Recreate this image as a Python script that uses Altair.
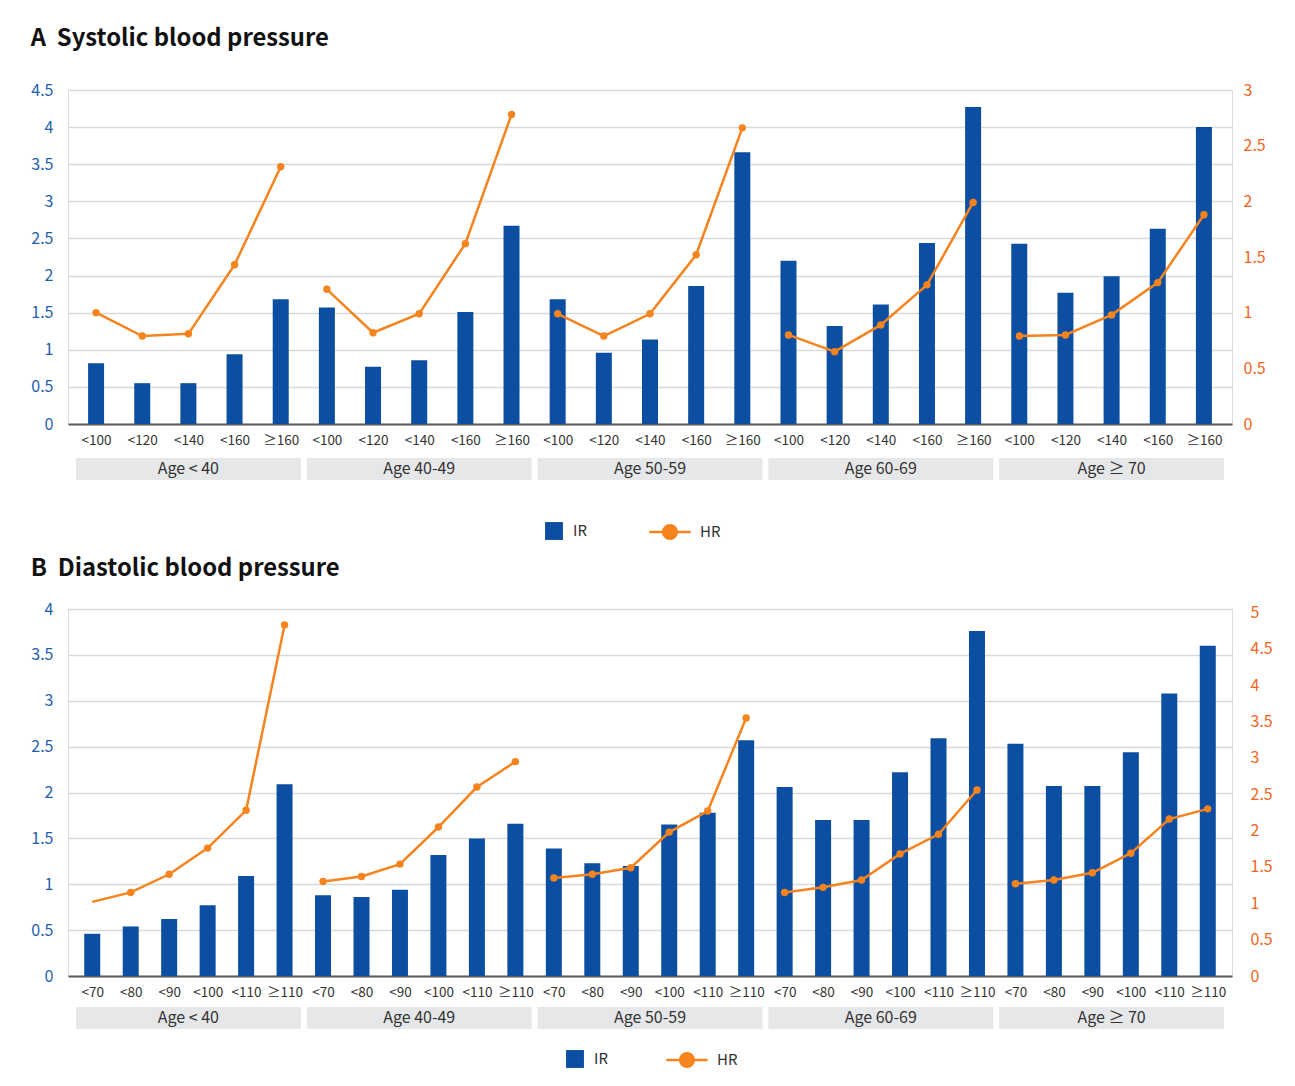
import json
import altair as alt
import pandas as pd

FONT = "Noto Sans CJK KR"
BLUE = "#0B4EA2"
ORANGE = "#F5841F"
AXIS_BLUE = "#1F5FAD"
AXIS_ORANGE = "#F26522"
TEXT = "#333333"

age_groups = ["Age < 40", "Age 40-49", "Age 50-59", "Age 60-69", "Age ≥ 70"]

sbp_levels = ["<100", "<120", "<140", "<160", "≥160"]
sbp_ir = [0.82, 0.55, 0.55, 0.94, 1.68,
          1.57, 0.77, 0.86, 1.51, 2.67,
          1.68, 0.96, 1.14, 1.86, 3.66,
          2.20, 1.32, 1.61, 2.44, 4.27,
          2.43, 1.77, 1.99, 2.63, 4.00]
sbp_hr = [1.00, 0.79, 0.81, 1.43, 2.31,
          1.21, 0.82, 0.99, 1.62, 2.78,
          0.99, 0.79, 0.99, 1.52, 2.66,
          0.80, 0.65, 0.89, 1.25, 1.99,
          0.79, 0.80, 0.98, 1.27, 1.88]

dbp_levels = ["<70", "<80", "<90", "<100", "<110", "≥110"]
dbp_ir = [0.46, 0.54, 0.62, 0.77, 1.09, 2.09,
          0.88, 0.86, 0.94, 1.32, 1.50, 1.66,
          1.39, 1.23, 1.20, 1.65, 1.78, 2.57,
          2.06, 1.70, 1.70, 2.22, 2.59, 3.76,
          2.53, 2.07, 2.07, 2.44, 3.08, 3.60]
dbp_hr = [1.02, 1.15, 1.40, 1.76, 2.28, 4.83,
          1.30, 1.37, 1.54, 2.05, 2.60, 2.95,
          1.35, 1.40, 1.49, 1.98, 2.27, 3.55,
          1.15, 1.22, 1.32, 1.68, 1.95, 2.56,
          1.27, 1.32, 1.42, 1.69, 2.16, 2.30]

W = 1164
HR_PATH = ("M-1,0L1,0M-0.33,0A0.33,0.33,0,1,1,0.33,0"
           "A0.33,0.33,0,1,1,-0.33,0Z")


def panel(title, levels, ir, hr, height, left_max, left_ticks, right_max,
          right_ticks, right_pad, box_top, box_bot, legs, title_offset,
          hide_first_marker):
    k = len(levels)
    n = len(ir)
    step = W / n
    df = pd.DataFrame({
        "pos": [i + 0.5 for i in range(n)],
        "idx": list(range(n)),
        "group": [age_groups[i // k] for i in range(n)],
        "level": [levels[i % k] for i in range(n)],
        "IR": ir,
        "HR": hr,
        "s_ir": ["IR"] * n,
        "s_hr": ["HR"] * n,
    })
    gdf = pd.DataFrame({
        "group": age_groups,
        "start": [g * k + 3 / step for g in range(len(age_groups))],
        "end": [(g + 1) * k - 3 / step for g in range(len(age_groups))],
        "mid": [g * k + k / 2 for g in range(len(age_groups))],
    })
    labels_all = [levels[i % k] for i in range(n)]
    label_expr = json.dumps(labels_all, ensure_ascii=False) + "[floor(datum.value)]"
    xaxis = alt.Axis(values=[i + 0.5 for i in range(n)], labelExpr=label_expr,
                     grid=False, ticks=False, domain=True, domainColor="#595959",
                     domainWidth=2, labelFontSize=13.5, labelColor=TEXT,
                     labelPadding=9, title=None, labelFlush=False,
                     labelOverlap=False, labelFont=FONT)
    xscale = alt.Scale(domain=[0, n], nice=False, zero=False)

    bars = alt.Chart(df).mark_bar(size=16, orient="vertical").encode(
        x=alt.X("pos:Q", scale=xscale, axis=xaxis),
        y=alt.Y("IR:Q", scale=alt.Scale(domain=[0, left_max], nice=False),
                axis=alt.Axis(values=left_ticks, format="~g", grid=True,
                              gridColor="#D9D9D9", gridWidth=1.5, ticks=False,
                              domain=False, labelColor=AXIS_BLUE,
                              labelFontSize=16, labelPadding=15, title=None,
                              labelFont=FONT)),
        color=alt.Color("s_ir:N", scale=alt.Scale(domain=["IR"], range=[BLUE]),
                        legend=alt.Legend(orient="none", legendX=legs[0],
                                          legendY=legs[1], title=None,
                                          symbolType="square", symbolSize=320,
                                          symbolStrokeWidth=0,
                                          labelFontSize=15, labelColor=TEXT,
                                          labelFont=FONT, labelOffset=10)),
    )
    boxes = alt.Chart(gdf).mark_rect(color="#E6E7E8").encode(
        x=alt.X("start:Q", scale=xscale, axis=xaxis),
        x2="end:Q",
        y=alt.value(height + box_top),
        y2=alt.value(height + box_bot),
    )
    box_text = alt.Chart(gdf).mark_text(fontSize=16, color=TEXT, font=FONT,
                                        baseline="middle").encode(
        x=alt.X("mid:Q", scale=xscale, axis=xaxis),
        y=alt.value(height + (box_top + box_bot) / 2),
        text="group:N",
    )
    yr = alt.Y("HR:Q", scale=alt.Scale(domain=[0, right_max], nice=False),
               axis=alt.Axis(orient="right", values=right_ticks, format="~g",
                             grid=False, ticks=False, domain=False,
                             labelColor=AXIS_ORANGE, labelFontSize=16,
                             labelPadding=right_pad, title=None,
                             labelFont=FONT))
    line = alt.Chart(df).mark_line(strokeWidth=2.5).encode(
        x=alt.X("pos:Q", scale=xscale, axis=xaxis),
        y=yr,
        detail="group:N",
        color=alt.Color("s_hr:N", scale=alt.Scale(domain=["HR"], range=[ORANGE]),
                        legend=alt.Legend(orient="none", legendX=legs[2],
                                          legendY=legs[3], title=None,
                                          symbolType=HR_PATH, symbolSize=1700,
                                          symbolStrokeWidth=2.5,
                                          symbolFillColor=ORANGE,
                                          symbolStrokeColor=ORANGE,
                                          labelFontSize=15, labelColor=TEXT,
                                          labelFont=FONT, labelOffset=8)),
    )
    pts = alt.Chart(df)
    if hide_first_marker:
        pts = pts.transform_filter("datum.idx > 0")
    points = pts.mark_circle(size=55, color=ORANGE, opacity=1).encode(
        x=alt.X("pos:Q", scale=xscale, axis=xaxis),
        y=yr,
    )
    left = alt.layer(boxes, box_text, bars)
    right = alt.layer(line, points)
    return alt.layer(left, right).resolve_scale(
        y="independent", color="independent"
    ).properties(
        width=W, height=height,
        title=alt.TitleParams(title, anchor="start", fontSize=23.8,
                              fontWeight="bold", font=FONT, color="#111111",
                              offset=title_offset),
    )


panel_a = panel("A\u00a0\u00a0Systolic blood pressure", sbp_levels, sbp_ir, sbp_hr,
                334, 4.5, [0, 0.5, 1, 1.5, 2, 2.5, 3, 3.5, 4, 4.5],
                3, [0, 0.5, 1, 1.5, 2, 2.5, 3], 11, 34, 56,
                [477, 432, 580, 420], 31, False)
panel_b = panel("B\u00a0\u00a0Diastolic blood pressure", dbp_levels, dbp_ir, dbp_hr,
                367, 4, [0, 0.5, 1, 1.5, 2, 2.5, 3, 3.5, 4],
                5.05, [0, 0.5, 1, 1.5, 2, 2.5, 3, 3.5, 4, 4.5, 5], 18, 31, 53,
                [498, 441, 597, 429], 20, True)

chart = alt.vconcat(panel_a, panel_b, spacing=11).properties(
    padding={"left": 22, "top": 18, "right": 10, "bottom": 5},
).configure_view(stroke=None).configure(font=FONT, background="white")

chart.save("out.html", embed_options={"renderer": "svg", "actions": False})
